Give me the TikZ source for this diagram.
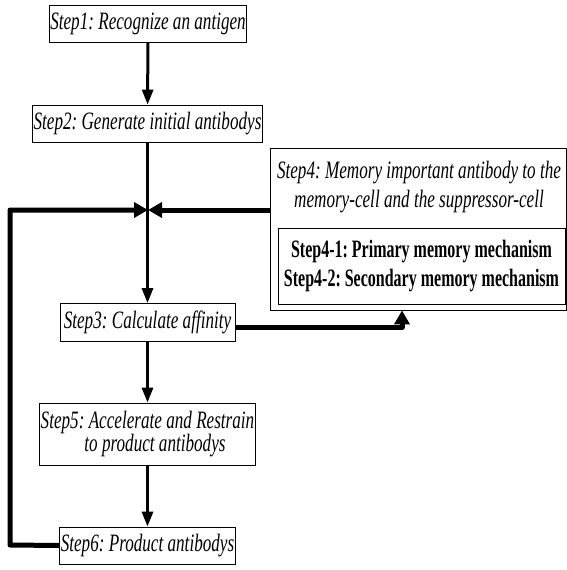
\documentclass[tikz,border=0pt]{standalone}
\usepackage{fontspec}
\setmainfont[FakeStretch=0.685]{Liberation Serif}
\newfontfamily\boldcond[FakeStretch=0.64]{Liberation Serif}
\usetikzlibrary{arrows.meta}
\frenchspacing
\tikzset{
  box/.style={draw, line width=0.8pt, inner sep=1pt, font=\fontsize{25}{21.5}\selectfont\itshape\frenchspacing, align=center},
  flow/.style={line width=3pt, -{Triangle[width=11pt,length=15pt]}},
  thick flow/.style={line width=5pt, line join=round, -{Triangle[width=15pt,length=14pt]}},
}
\begin{document}
\begin{tikzpicture}[x=1pt,y=-1pt]
\useasboundingbox (0,0) rectangle (567,570);
\node[box, minimum width=197pt, minimum height=37pt] (s1) at (148,23.5) {Step1: Recognize an antigen};
\node[box, minimum width=229pt, minimum height=37pt] (s2) at (147.5,123.5) {Step2: Generate initial antibodys};
\node[box, minimum width=175pt, minimum height=38pt] (s3) at (147.5,322.5) {Step3: Calculate affinity};
\node[box, minimum width=215pt, minimum height=62pt] (s5) at (147.5,434) {Step5: Accelerate and Restrain\\\hspace*{15pt}to product antibodys};
\node[box, minimum width=175pt, minimum height=37pt] (s6) at (147.5,545.5) {Step6: Product antibodys};
\node[draw, line width=0.8pt, minimum width=296pt, minimum height=162pt, inner sep=0pt] (s4) at (418,229) {};
\node[font=\fontsize{25}{28.3}\selectfont\itshape\frenchspacing, align=center, inner sep=0pt] (s4t) at (419,187) {Step4: Memory important antibody to the\\memory-cell and the suppressor-cell};
\node[draw, line width=0.8pt, minimum width=287pt, minimum height=76pt, inner sep=0pt, font=\boldcond\fontsize{25}{28.5}\selectfont\bfseries\frenchspacing, align=center] (s41) at (421.5,266) {Step4-1: Primary memory mechanism\\Step4-2: Secondary memory mechanism};
\coordinate (J) at (148,210);
\coordinate (FL) at (10,210);
\coordinate (FB) at (10,545);
\coordinate (C) at (402,327);
\draw[flow] (s1) -- (s2);
\draw[flow] (s2) -- (s3);
\draw[flow] (s3) -- (s5);
\draw[flow] (s5) -- (s6);
\draw[thick flow] (s4.west |- J) -- (J);
\draw[thick flow] (s6.west) -- (FB) -- (FL) -- (J);
\draw[thick flow] (s3.east |- C) -- (C) -- (C |- s4.south);
\end{tikzpicture}
\end{document}
